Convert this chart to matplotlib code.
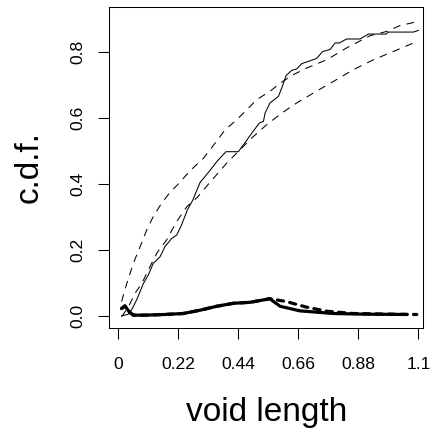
import matplotlib
matplotlib.use("Agg")
import matplotlib.pyplot as plt

plt.rcParams['font.family'] = ['Liberation Sans', 'DejaVu Sans']
plt.rcParams['lines.scale_dashes'] = False

# empirical c.d.f. of void lengths
ecdf_x = [0.012, 0.035, 0.05, 0.067, 0.092, 0.110, 0.128, 0.153, 0.171, 0.196, 0.214, 0.232, 0.253,
          0.273, 0.300, 0.337, 0.361, 0.395, 0.440, 0.465, 0.489, 0.517, 0.532, 0.538, 0.556, 0.587,
          0.599, 0.615, 0.636, 0.654, 0.672, 0.703, 0.727, 0.749, 0.776, 0.795, 0.810, 0.837, 0.886,
          0.917, 0.982, 0.990, 1.082, 1.100]
ecdf_y = [0.0, 0.004, 0.02, 0.048, 0.098, 0.124, 0.159, 0.179, 0.21, 0.235, 0.245, 0.276, 0.321,
          0.351, 0.405, 0.442, 0.468, 0.498, 0.498, 0.526, 0.554, 0.585, 0.59, 0.615, 0.646, 0.666,
          0.691, 0.729, 0.745, 0.749, 0.765, 0.774, 0.781, 0.802, 0.808, 0.828, 0.828, 0.840, 0.840,
          0.855, 0.855, 0.861, 0.861, 0.866]

# envelopes
up_x = [0.012, 0.031, 0.055, 0.08, 0.104, 0.128, 0.159, 0.19, 0.22, 0.263, 0.312, 0.355, 0.391,
        0.434, 0.471, 0.507, 0.556, 0.593, 0.642, 0.691, 0.764, 0.837, 0.923, 0.984, 1.033, 1.088]
up_y = [0.043, 0.098, 0.159, 0.21, 0.26, 0.301, 0.342, 0.375, 0.4, 0.44, 0.478, 0.524, 0.564,
        0.595, 0.625, 0.656, 0.681, 0.706, 0.732, 0.752, 0.777, 0.813, 0.85, 0.863, 0.881, 0.891]
lo_x = [0.012, 0.037, 0.061, 0.086, 0.116, 0.141, 0.177, 0.214, 0.251, 0.29, 0.336, 0.397, 0.446,
        0.495, 0.544, 0.599, 0.654, 0.715, 0.788, 0.862, 0.935, 1.008, 1.082]
lo_y = [-0.003, 0.027, 0.068, 0.098, 0.149, 0.19, 0.23, 0.286, 0.331, 0.36, 0.405, 0.463, 0.504,
        0.544, 0.58, 0.615, 0.646, 0.676, 0.711, 0.747, 0.777, 0.802, 0.828]

# thick curves near zero
ts_x = [0.012, 0.024, 0.04, 0.055, 0.1, 0.17, 0.238, 0.3, 0.361, 0.422, 0.483, 0.544, 0.555,
        0.593, 0.666, 0.788, 0.9, 1.057]
ts_y = [0.022, 0.03, 0.012, 0.002, 0.002, 0.004, 0.007, 0.017, 0.029, 0.038, 0.041, 0.05, 0.052,
        0.029, 0.015, 0.007, 0.005, 0.004]
td_x = [0.012, 0.024, 0.04, 0.055, 0.1, 0.17, 0.238, 0.3, 0.361, 0.422, 0.483, 0.544, 0.555,
        0.617, 0.691, 0.764, 0.86, 1.0, 1.094]
td_y = [0.022, 0.03, 0.012, 0.002, 0.002, 0.004, 0.007, 0.017, 0.029, 0.038, 0.041, 0.05, 0.052,
        0.043, 0.026, 0.014, 0.007, 0.005, 0.004]

xticks = [0, 0.22, 0.44, 0.66, 0.88, 1.1]
xtick_labels = ['0', '0.22', '0.44', '0.66', '0.88', '1.1']
yticks = [0.0, 0.2, 0.4, 0.6, 0.8]
ytick_labels = ['0.0', '0.2', '0.4', '0.6', '0.8']

W, H = 434, 429
fig = plt.figure(figsize=(W / 100, H / 100), dpi=100)
ax = fig.add_axes([109.3 / W, 1 - 328 / H, (423.3 - 109.3) / W, (328 - 6.7) / H])

thin = 0.75
ax.plot(ecdf_x, ecdf_y, color='black', lw=thin)
ax.plot(up_x, up_y, color='black', lw=thin, linestyle=(0, (5.5, 4.5)))
ax.plot(lo_x, lo_y, color='black', lw=thin, linestyle=(0, (5.5, 4.5)))
ax.plot(td_x, td_y, color='black', lw=2.3, linestyle=(0, (4.5, 4.5)), dash_capstyle='round')
ax.plot(ts_x, ts_y, color='black', lw=2.3, solid_capstyle='round')

ax.set_xlim(-0.033, 1.118)
ax.set_ylim(-0.037, 0.938)
ax.set_xticks(xticks)
ax.set_xticklabels(xtick_labels)
ax.set_yticks(yticks)
ax.set_yticklabels(ytick_labels, rotation=90, va='center')
ax.tick_params(direction='out', length=8, width=0.75, labelsize=12.6)
ax.tick_params(axis='x', pad=13)
ax.tick_params(axis='y', pad=9)
for s in ax.spines.values():
    s.set_linewidth(0.75)

ax.set_xlabel('void length', fontsize=24, labelpad=18)
ax.set_ylabel('c.d.f.', fontsize=24, labelpad=19)

fig.savefig('out.png', dpi=100)
